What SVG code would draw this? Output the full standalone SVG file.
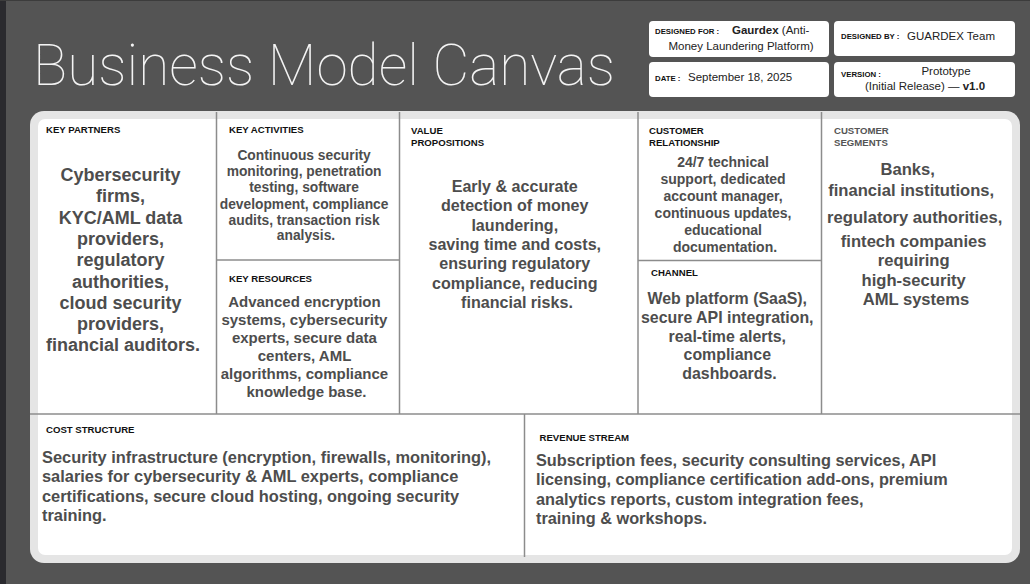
<svg xmlns="http://www.w3.org/2000/svg" width="1030" height="584" viewBox="0 0 1030 584">
  <style>
    .title { font-family: Roboto, "Liberation Sans", sans-serif; font-weight: 100; font-size: 58px; fill: #f4f4f4; }
    .lbl { font-family: "Liberation Sans", Arial, sans-serif; font-weight: bold; font-size: 9.6px; fill: #111; }
    .lbl-grey { fill: #555; }
    .body { font-family: "Liberation Sans", Arial, sans-serif; font-weight: bold; fill: #4d4d4d; }
    .mid { text-anchor: middle; }
    .meta-k { font-family: "Liberation Sans", Arial, sans-serif; font-weight: bold; font-size: 7.8px; fill: #111; }
    .meta-v { font-family: "Liberation Sans", Arial, sans-serif; font-size: 11.5px; fill: #222; }
    .meta-b { font-weight: bold; }
    .meta-box { fill: #ffffff; }
    .div { stroke: #8c8c8c; stroke-width: 1.5; fill: none; }
  </style>

  <!-- page background -->
  <rect x="0" y="0" width="1030" height="584" fill="#545454"/>
  <rect x="0" y="0" width="6" height="584" fill="#2a2a2e"/>
  <rect x="0" y="0" width="1030" height="1" fill="#3c3c3c"/>

  <!-- heading -->
  <text class="title" x="33" y="85" textLength="582" lengthAdjust="spacingAndGlyphs">Business Model Canvas</text>

  <!-- project info boxes -->
  <g id="designed-for">
    <rect class="meta-box" x="649" y="21" width="180" height="36" rx="4"/>
    <text class="meta-k" x="655" y="34">DESIGNED FOR :</text>
    <text class="meta-v" x="732" y="34"><tspan class="meta-b">Gaurdex</tspan> (Anti-</text>
    <text class="meta-v mid" x="741" y="50">Money Laundering Platform)</text>
  </g>
  <g id="designed-by">
    <rect class="meta-box" x="834" y="21" width="181" height="35" rx="4"/>
    <text class="meta-k" x="841" y="39">DESIGNED BY :</text>
    <text class="meta-v" x="907" y="40">GUARDEX Team</text>
  </g>
  <g id="date">
    <rect class="meta-box" x="649" y="62" width="180" height="35" rx="4"/>
    <text class="meta-k" x="655" y="81">DATE :</text>
    <text class="meta-v" x="688" y="81">September 18, 2025</text>
  </g>
  <g id="version">
    <rect class="meta-box" x="834" y="62" width="181" height="35" rx="4"/>
    <text class="meta-k" x="841" y="77">VERSION :</text>
    <text class="meta-v mid" x="946" y="75">Prototype</text>
    <text class="meta-v mid" x="925" y="90">(Initial Release) — <tspan class="meta-b">v1.0</tspan></text>
  </g>

  <!-- canvas board -->
  <rect x="30" y="111" width="990" height="452" rx="14" fill="#e5e5e5"/>
  <rect x="38" y="119" width="974" height="436" rx="7" fill="#ffffff"/>

  <!-- block dividers -->
  <g id="dividers">
    <line class="div" x1="216.5" y1="112" x2="216.5" y2="414"/>
    <line class="div" x1="399.5" y1="112" x2="399.5" y2="414"/>
    <line class="div" x1="638" y1="112" x2="638" y2="414"/>
    <line class="div" x1="821.5" y1="112" x2="821.5" y2="414"/>
    <line class="div" x1="216.5" y1="260" x2="399.5" y2="260"/>
    <line class="div" x1="638" y1="260.5" x2="821.5" y2="260.5"/>
    <line class="div" x1="30" y1="414" x2="1020" y2="414"/>
    <line class="div" x1="524.5" y1="414" x2="524.5" y2="557"/>
  </g>

  <g id="key-partners">
    <text class="lbl" x="46" y="133">KEY PARTNERS</text>
    <text class="body mid" font-size="18" x="123">
      <tspan x="123" y="181">Cybersecurity</tspan>
      <tspan x="123" y="202.3">firms,</tspan>
      <tspan x="123" y="223.6">KYC/AML data</tspan>
      <tspan x="123" y="244.9">providers,</tspan>
      <tspan x="123" y="266.2">regulatory</tspan>
      <tspan x="123" y="287.5">authorities,</tspan>
      <tspan x="123" y="308.8">cloud security</tspan>
      <tspan x="123" y="330.1">providers,</tspan>
      <tspan x="123" y="351.4">financial auditors.</tspan>
    </text>
  </g>

  <g id="key-activities">
    <text class="lbl" x="229" y="133">KEY ACTIVITIES</text>
    <text class="body mid" font-size="13.8" x="306">
      <tspan x="306" y="160">Continuous security</tspan>
      <tspan x="306" y="176">monitoring, penetration</tspan>
      <tspan x="306" y="192">testing, software</tspan>
      <tspan x="306" y="208.5">development, compliance</tspan>
      <tspan x="306" y="224.5">audits, transaction risk</tspan>
      <tspan x="306" y="240">analysis.</tspan>
    </text>
  </g>

  <g id="key-resources">
    <text class="lbl" x="229" y="281.5">KEY RESOURCES</text>
    <text class="body mid" font-size="15" x="306.5">
      <tspan x="306.5" y="306.5">Advanced encryption</tspan>
      <tspan x="306.5" y="324.5">systems, cybersecurity</tspan>
      <tspan x="306.5" y="342.5">experts, secure data</tspan>
      <tspan x="306.5" y="360.5">centers, AML</tspan>
      <tspan x="306.5" y="378.5">algorithms, compliance</tspan>
      <tspan x="306.5" y="396.5">knowledge base.</tspan>
    </text>
  </g>

  <g id="value-propositions">
    <text class="lbl" x="411" y="134">VALUE</text>
    <text class="lbl" x="411" y="145.7">PROPOSITIONS</text>
    <text class="body mid" font-size="16.1" x="517">
      <tspan x="517" y="191.7">Early &amp; accurate</tspan>
      <tspan x="517" y="211.1">detection of money</tspan>
      <tspan x="517" y="230.5">laundering,</tspan>
      <tspan x="517" y="249.9">saving time and costs,</tspan>
      <tspan x="517" y="269.3">ensuring regulatory</tspan>
      <tspan x="517" y="288.7">compliance, reducing</tspan>
      <tspan x="517" y="308.1">financial risks.</tspan>
    </text>
  </g>

  <g id="customer-relationship">
    <text class="lbl" x="649" y="134">CUSTOMER</text>
    <text class="lbl" x="649" y="145.7">RELATIONSHIP</text>
    <text class="body mid" font-size="14" x="725">
      <tspan x="725" y="166.7">24/7 technical</tspan>
      <tspan x="725" y="183.7">support, dedicated</tspan>
      <tspan x="725" y="200.7">account manager,</tspan>
      <tspan x="725" y="217.7">continuous updates,</tspan>
      <tspan x="725" y="234.7">educational</tspan>
      <tspan x="725" y="251.7">documentation.</tspan>
    </text>
  </g>

  <g id="channel">
    <text class="lbl" x="651" y="275.7">CHANNEL</text>
    <text class="body mid" font-size="15.9" x="729.5">
      <tspan x="729.5" y="304">Web platform (SaaS),</tspan>
      <tspan x="729.5" y="322.8">secure API integration,</tspan>
      <tspan x="729.5" y="341.6">real-time alerts,</tspan>
      <tspan x="729.5" y="360.4">compliance</tspan>
      <tspan x="729.5" y="379.2">dashboards.</tspan>
    </text>
  </g>

  <g id="customer-segments">
    <text class="lbl lbl-grey" x="834" y="134">CUSTOMER</text>
    <text class="lbl lbl-grey" x="834" y="145.7">SEGMENTS</text>
    <text class="body mid" font-size="16.6" x="916">
      <tspan x="910" y="175">Banks,</tspan>
      <tspan x="913.5" y="195.7">financial institutions,</tspan>
      <tspan x="917" y="222.7">regulatory authorities,</tspan>
      <tspan x="916" y="246.7">fintech companies</tspan>
      <tspan x="916" y="266.4">requiring</tspan>
      <tspan x="916" y="286">high-security</tspan>
      <tspan x="916" y="305.3">AML systems</tspan>
    </text>
  </g>

  <g id="cost-structure">
    <text class="lbl" x="46" y="433.3">COST STRUCTURE</text>
    <text class="body" font-size="16.4" x="42">
      <tspan x="42" y="463.3">Security infrastructure (encryption, firewalls, monitoring),</tspan>
      <tspan x="42" y="482.4">salaries for cybersecurity &amp; AML experts, compliance</tspan>
      <tspan x="42" y="501.6">certifications, secure cloud hosting, ongoing security</tspan>
      <tspan x="42" y="520.7">training.</tspan>
    </text>
  </g>

  <g id="revenue-stream">
    <text class="lbl" x="539.5" y="440.7">REVENUE STREAM</text>
    <text class="body" font-size="16.3" x="536">
      <tspan x="536" y="465.7">Subscription fees, security consulting services, API</tspan>
      <tspan x="536" y="485">licensing, compliance certification add-ons, premium</tspan>
      <tspan x="536" y="504.5">analytics reports, custom integration fees,</tspan>
      <tspan x="536" y="524">training &amp; workshops.</tspan>
    </text>
  </g>
</svg>
